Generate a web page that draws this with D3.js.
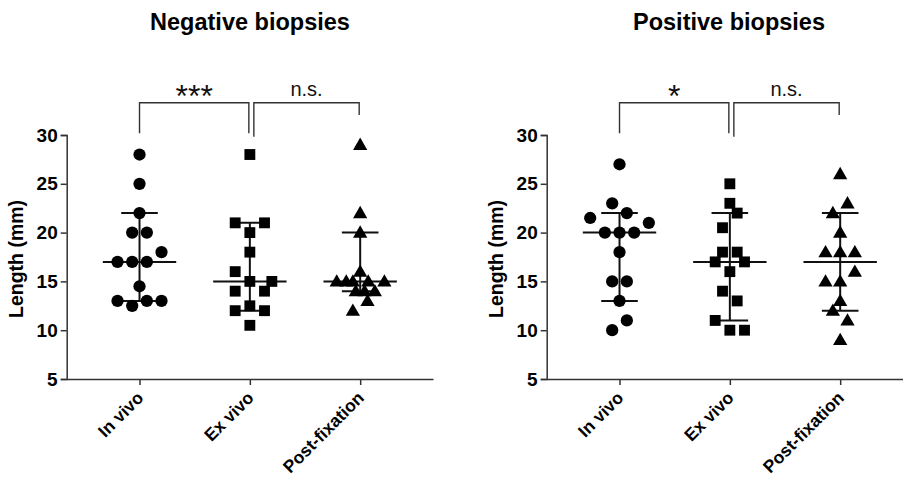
<!DOCTYPE html>
<html>
<head>
<meta charset="utf-8">
<script src="https://cdn.jsdelivr.net/npm/d3@7/dist/d3.min.js"></script>
<style>
  html, body { margin: 0; padding: 0; background: #fff; }
  svg { display: block; }
  text { font-family: "Liberation Sans", Arial, Helvetica, sans-serif; }
</style>
</head>
<body>
<svg id="chart" width="903" height="479"></svg>
<script>
// ---------------- data ----------------
const categories = ["In vivo", "Ex vivo", "Post-fixation"];
const yTicks = [5, 10, 15, 20, 25, 30];
const panelTitles = ["Negative biopsies", "Positive biopsies"];
const yLabel = "Length (mm)";

// Negative biopsies
const negInVivo      = [28, 25, 22, 20, 20, 18, 17, 17, 17, 14.5, 13, 13, 13, 12.5];
const negInVivoSlot  = [0, 0, 0, -1, 1, 3, -3, -1, 1, 0, -3, 1, 3, -1];
const negExVivo      = [28, 21, 21, 20, 18, 16, 15, 15, 14, 14, 12.5, 12, 12, 10.5];
const negExVivoSlot  = [0, -2, 2, 0, 0, -2, 0, 3, -2, 2, 0, -2, 2, 0];
const negPostFix     = [29, 22, 20, 16, 15, 15, 15, 15, 15, 14, 14, 14, 13, 12];
const negPostFixSlot = [0, 0, 0, 0, -3.2, -1.9, -1, 1.1, 3.3, -0.6, 0.6, 2, 1, -1];
const negMedian = [17, 15, 15];
const negLower  = [13, 12, 14];
const negUpper  = [22, 21, 20];
const negSig    = ["***", "n.s."];

// Positive biopsies
const posInVivo      = [27, 23, 22, 21.5, 21, 20, 20, 20, 18, 15, 15, 13, 11, 10];
const posInVivoSlot  = [0, -1, 1, -4, 4, -2, 0, 2, 0, -1, 1, 0, 1, -1];
const posExVivo      = [25, 23, 22, 20.5, 18, 18, 17, 17, 16, 14, 13, 11, 10, 10];
const posExVivoSlot  = [0, 0, 1, -1, -1, 1, -2, 2, 0, -1, 1, -2, 0, 2];
const posPostFix     = [26, 23, 22, 20, 18, 18, 18, 16, 15, 15, 13, 12, 11, 9];
const posPostFixSlot = [0, 1, -1, 0, -2, 0, 2, 2, -2, 0, 0, -1, 1, 0];
const posMedian = [20, 17, 17];
const posLower  = [13, 11, 12];
const posUpper  = [22, 22, 22];
const posSig    = ["*", "n.s."];

// ---------------- drawing ----------------
const svg = d3.select("#chart");
const symbols = [d3.symbolCircle, d3.symbolSquare, d3.symbolTriangle];
const symbolSizes = [118, 118, 88];
const slotUnit = 7.33;

const panels = [
  { title: panelTitles[0], x0: 66.7, x1: 433, titleX: 250,
    groups: [[negInVivo, negInVivoSlot], [negExVivo, negExVivoSlot], [negPostFix, negPostFixSlot]],
    med: negMedian, lo: negLower, hi: negUpper, sig: negSig },
  { title: panelTitles[1], x0: 546.7, x1: 913, titleX: 729,
    groups: [[posInVivo, posInVivoSlot], [posExVivo, posExVivoSlot], [posPostFix, posPostFixSlot]],
    med: posMedian, lo: posLower, hi: posUpper, sig: posSig }
];

const y = d3.scaleLinear().domain([5, 30]).range([379, 135]);

panels.forEach(p => {
  const g = svg.append("g");
  const x = d3.scalePoint().domain(categories).range([p.x0, p.x1]).padding(0.66);

  // title
  g.append("text")
    .attr("x", p.titleX).attr("y", 30)
    .attr("text-anchor", "middle")
    .attr("font-weight", "bold").attr("font-size", 23.5)
    .attr("fill", "#000")
    .text(p.title);

  // y axis
  const ya = g.append("g").attr("transform", `translate(${p.x0},0)`)
    .call(d3.axisLeft(y).tickValues(yTicks).tickSize(6).tickPadding(3).tickFormat(d3.format("d")));
  ya.select(".domain").attr("stroke", "#333").attr("stroke-width", 1.5);
  ya.selectAll(".tick line").attr("stroke", "#333").attr("stroke-width", 1.5);
  ya.selectAll(".tick text").attr("font-size", 19).attr("font-weight", "bold")
    .attr("fill", "#000").attr("font-family", "'Liberation Sans', Arial, sans-serif");

  // y label
  g.append("text")
    .attr("transform", `translate(${p.x0 - 44},${y(17.3)}) rotate(-90)`)
    .attr("text-anchor", "middle")
    .attr("font-weight", "bold").attr("font-size", 19.5)
    .attr("fill", "#000")
    .text(yLabel);

  // x axis
  const xa = g.append("g").attr("transform", `translate(0,${y(5)})`)
    .call(d3.axisBottom(x).tickSize(6).tickSizeOuter(0).tickFormat(""));
  xa.select(".domain").attr("stroke", "#333").attr("stroke-width", 1.5);
  xa.selectAll(".tick line").attr("stroke", "#333").attr("stroke-width", 1.5);

  categories.forEach(c => {
    g.append("text")
      .attr("transform", `translate(${x(c) + 5},${y(5) + 20}) rotate(-45)`)
      .attr("text-anchor", "end")
      .attr("font-weight", "bold").attr("font-size", 17.5)
      .attr("fill", "#000")
      .text(c);
  });

  // median & whiskers
  categories.forEach((c, i) => {
    const cx = x(c);
    g.append("line").attr("x1", cx).attr("x2", cx)
      .attr("y1", y(p.lo[i])).attr("y2", y(p.hi[i]))
      .attr("stroke", "#111").attr("stroke-width", 2);
    g.append("line").attr("x1", cx - 36.7).attr("x2", cx + 36.7)
      .attr("y1", y(p.med[i])).attr("y2", y(p.med[i]))
      .attr("stroke", "#111").attr("stroke-width", 2);
    [p.lo[i], p.hi[i]].forEach(v => {
      g.append("line").attr("x1", cx - 18.3).attr("x2", cx + 18.3)
        .attr("y1", y(v)).attr("y2", y(v))
        .attr("stroke", "#111").attr("stroke-width", 2);
    });
  });

  // points
  p.groups.forEach(([vals, slots], i) => {
    const cx = x(categories[i]);
    g.append("g").selectAll("path").data(vals).join("path")
      .attr("d", d3.symbol().type(symbols[i]).size(symbolSizes[i]))
      .attr("transform", (d, k) => `translate(${cx + slots[k] * slotUnit},${y(d) + (i === 2 ? 1 : 0)})`)
      .attr("fill", "#000");
  });

  // significance brackets
  const topY = 102.7;
  const b1 = [x(categories[0]), x(categories[1]) - 1];
  const b2 = [x(categories[1]) + 4, x(categories[2]) - 1];
  g.append("path")
    .attr("d", `M${b1[0]},133.3 V${topY} H${b1[1]} V133.3`)
    .attr("fill", "none").attr("stroke", "#333").attr("stroke-width", 1.4);
  g.append("path")
    .attr("d", `M${b2[0]},136.7 V${topY} H${b2[1]} V115`)
    .attr("fill", "none").attr("stroke", "#333").attr("stroke-width", 1.4);
  g.append("text")
    .attr("x", (b1[0] + b1[1]) / 2).attr("y", 107)
    .attr("text-anchor", "middle").attr("font-size", 32).attr("fill", "#111")
    .text(p.sig[0]);
  g.append("text")
    .attr("x", (b2[0] + b2[1]) / 2).attr("y", 96)
    .attr("text-anchor", "middle").attr("font-size", 20).attr("fill", "#111")
    .text(p.sig[1]);
});
</script>
</body>
</html>
